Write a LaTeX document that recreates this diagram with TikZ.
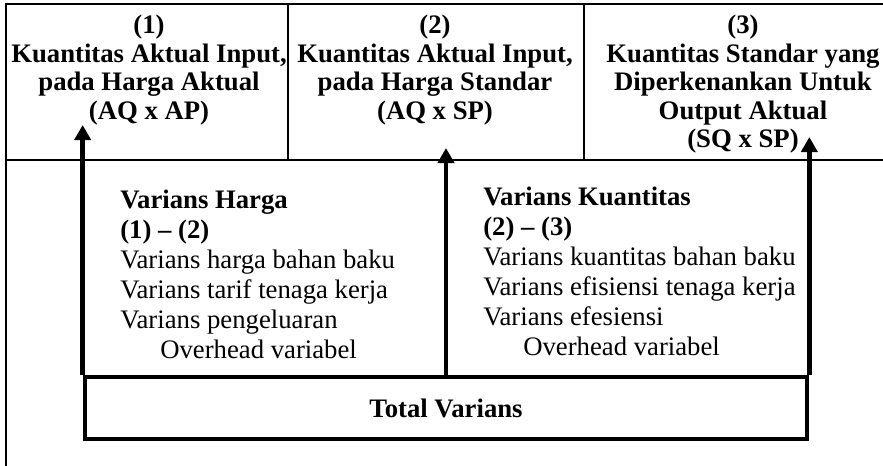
\documentclass[tikz,border=0pt]{standalone}
\usepackage{fontspec}
\setmainfont{Liberation Serif}
\usepackage{tikz}
\usetikzlibrary{arrows.meta,positioning,calc}

\begin{document}
\begin{tikzpicture}[
    x=0.025cm, y=-0.025cm,
    thinline/.style={line width=1.4pt},
    thickline/.style={line width=3.2pt},
    head/.style={font=\fontsize{19}{20.2}\selectfont\bfseries, align=center, anchor=north, inner sep=0pt},
    item/.style={font=\fontsize{19}{21.3}\selectfont, align=left, anchor=north west, inner sep=0pt},
    total/.style={thickline, draw, minimum width=18.05cm, minimum height=1.55cm, font=\fontsize{19}{21}\selectfont\bfseries},
    up/.style={thickline, -{Triangle[length=0.375cm, width=0.4cm]}}
]
    \useasboundingbox (0,0) rectangle (883,466);

    % Frame and header cells
    \draw[thinline] (6,466) -- (6,4) -- (883,4);
    \draw[thinline] (6,160) -- (883,160);
    \draw[thinline] (288,4) -- (288,160);
    \draw[thinline] (584,4) -- (584,160);

    % Header texts
    \node[head] (aqap) at (149,15) {(1)\\Kuantitas Aktual Input,\\pada Harga Aktual\\(AQ x AP)};
    \node[head] (aqsp) at (435,15) {(2)\\Kuantitas Aktual Input,\\pada Harga Standar\\(AQ x SP)};
    \node[head] (sqsp) at (743,15) {(3)\\Kuantitas Standar yang\\Diperkenankan Untuk\\Output Aktual\\(SQ x SP)};

    % Variance texts
    \node[item] (harga) at (120,190) {\textbf{Varians Harga}\\\textbf{(1) -- (2)}\\Varians harga bahan baku\\Varians tarif tenaga kerja\\Varians pengeluaran\\\hspace*{1cm}Overhead variabel};
    \node[item] (kuant) at (483,187) {\textbf{Varians Kuantitas}\\\textbf{(2) -- (3)}\\Varians kuantitas bahan baku\\Varians efisiensi tenaga kerja\\Varians efesiensi\\\hspace*{1cm}Overhead variabel};

    % Total box
    \node[total] (tot) at (446,408) {Total Varians};

    % Arrow tips
    \coordinate (tipA) at (86,125);
    \coordinate (tipB) at (446,148);
    \coordinate (tipC) at (806,137);

    \draw[up] (tot.north west) -- (tot.north west |- tipA);
    \draw[up] (tot.north) -- (tot.north |- tipB);
    \draw[up] (tot.north east) -- (tot.north east |- tipC);

\end{tikzpicture}
\end{document}
